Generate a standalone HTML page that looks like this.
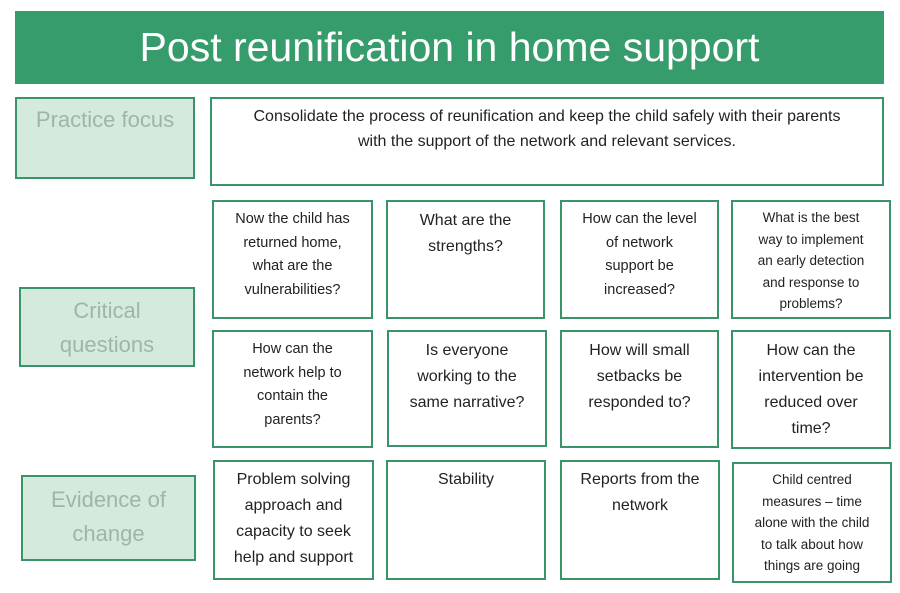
<!DOCTYPE html>
<html><head><meta charset="utf-8"><style>
body{margin:0;width:900px;height:593px;background:#fff;position:relative;overflow:hidden;font-family:"Liberation Sans",sans-serif;}
.b{position:absolute;box-sizing:border-box;border:2px solid #3a9469;text-align:center;color:#222;}
.l{background:#d5eadd;color:#9fb5a8;font-size:22px;line-height:34px;}
.q{font-size:14.5px;line-height:23.5px;padding-top:6px;}
.m{font-size:16px;line-height:26px;padding-top:6px;}
.s{font-size:13.5px;line-height:21.5px;padding-top:5px;}
</style></head><body>
<div style="position:absolute;left:15px;top:11px;width:869px;height:73px;background:#379c6c;color:#fff;font-size:41px;line-height:73px;text-align:center;">Post reunification in home support</div>
<div class="b l" style="left:15px;top:97px;width:180px;height:82px;padding-top:4px;">Practice focus</div>
<div class="b" style="left:210px;top:97px;width:674px;height:89px;font-size:16px;line-height:25px;padding-top:5px;">Consolidate the process of reunification and keep the child safely with their parents<br>with the support of the network and relevant services.</div>

<div class="b l" style="left:19px;top:287px;width:176px;height:80px;padding-top:5px;">Critical<br>questions</div>
<div class="b l" style="left:21px;top:475px;width:175px;height:86px;padding-top:6px;">Evidence of<br>change</div>

<div class="b q" style="left:212px;top:200px;width:161px;height:119px;">Now the child has<br>returned home,<br>what are the<br>vulnerabilities?</div>
<div class="b m" style="left:386px;top:200px;width:159px;height:119px;">What are the<br>strengths?</div>
<div class="b q" style="left:560px;top:200px;width:159px;height:119px;">How can the level<br>of network<br>support be<br>increased?</div>
<div class="b s" style="left:731px;top:200px;width:160px;height:119px;">What is the best<br>way to implement<br>an early detection<br>and response to<br>problems?</div>

<div class="b q" style="left:212px;top:330px;width:161px;height:118px;">How can the<br>network help to<br>contain the<br>parents?</div>
<div class="b m" style="left:387px;top:330px;width:160px;height:117px;">Is everyone<br>working to the<br>same narrative?</div>
<div class="b m" style="left:560px;top:330px;width:159px;height:118px;">How will small<br>setbacks be<br>responded to?</div>
<div class="b m" style="left:731px;top:330px;width:160px;height:119px;">How can the<br>intervention be<br>reduced over<br>time?</div>

<div class="b m" style="left:213px;top:460px;width:161px;height:120px;padding-top:5px;">Problem solving<br>approach and<br>capacity to seek<br>help and support</div>
<div class="b m" style="left:386px;top:460px;width:160px;height:120px;padding-top:5px;">Stability</div>
<div class="b m" style="left:560px;top:460px;width:160px;height:120px;padding-top:5px;">Reports from the<br>network</div>
<div class="b s" style="left:732px;top:462px;width:160px;height:121px;">Child centred<br>measures – time<br>alone with the child<br>to talk about how<br>things are going</div>
</body></html>
